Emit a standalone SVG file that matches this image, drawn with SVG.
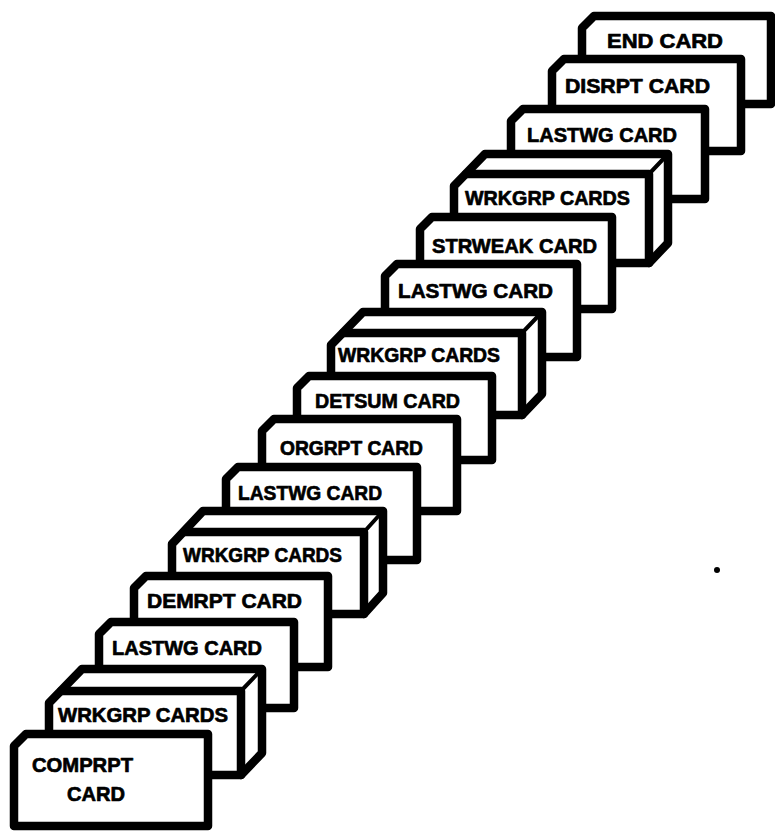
<svg xmlns="http://www.w3.org/2000/svg" width="775" height="831" viewBox="0 0 775 831">
<style>
.card{fill:#fff;stroke:#000;stroke-width:8.5;stroke-linejoin:round;stroke-linecap:round}
.edge{fill:none;stroke:#000;stroke-width:8.5;stroke-linejoin:round;stroke-linecap:round}
.thin{fill:none;stroke:#000;stroke-width:4;stroke-linecap:round}
.lbl{font-family:"Liberation Sans",Arial,sans-serif;font-weight:bold;font-size:21px;fill:#000;stroke:#000;stroke-width:0.7;stroke-linejoin:round}
</style>
<rect width="775" height="831" fill="#fff"/>
<g id="end-card">
<path class="card" d="M582,104 V28 L594,16 H771 V104 Z"/>
<text class="lbl" x="607" y="48" textLength="116" lengthAdjust="spacingAndGlyphs">END CARD</text>
</g>
<g id="disrpt-card">
<path class="card" d="M552,151 V71 L564,59 H741 V151 Z"/>
<text class="lbl" x="565" y="93" textLength="145" lengthAdjust="spacingAndGlyphs">DISRPT CARD</text>
</g>
<g id="lastwg-card-3">
<path class="card" d="M511,199 V121 L523,109 H705 V199 Z"/>
<text class="lbl" x="527" y="142" textLength="150" lengthAdjust="spacingAndGlyphs">LASTWG CARD</text>
</g>
<g id="wrkgrp-cards-4">
<path class="card" d="M454,263 V186 L485,154 H668 V243 L649,263 Z"/>
<path class="edge" d="M466,174 H649 V263"/>
<path class="thin" d="M649,174 L668,154"/>
<text class="lbl" x="465" y="205" textLength="165" lengthAdjust="spacingAndGlyphs">WRKGRP CARDS</text>
</g>
<g id="strweak-card">
<path class="card" d="M420,309 V229 L432,217 H612 V309 Z"/>
<text class="lbl" x="432" y="253" textLength="165" lengthAdjust="spacingAndGlyphs">STRWEAK CARD</text>
</g>
<g id="lastwg-card-6">
<path class="card" d="M385,357 V276 L397,264 H577 V357 Z"/>
<text class="lbl" x="398" y="298" textLength="155" lengthAdjust="spacingAndGlyphs">LASTWG CARD</text>
</g>
<g id="wrkgrp-cards-7">
<path class="card" d="M331,415 V345 L363,312 H542 V394 L522,415 Z"/>
<path class="edge" d="M343,333 H522 V415"/>
<path class="thin" d="M522,333 L542,312"/>
<text class="lbl" x="338" y="362" textLength="162" lengthAdjust="spacingAndGlyphs">WRKGRP CARDS</text>
</g>
<g id="detsum-card">
<path class="card" d="M297,460 V388 L309,376 H492 V460 Z"/>
<text class="lbl" x="315" y="408" textLength="145" lengthAdjust="spacingAndGlyphs">DETSUM CARD</text>
</g>
<g id="orgrpt-card">
<path class="card" d="M262,511 V431 L274,419 H457 V511 Z"/>
<text class="lbl" x="280" y="455" textLength="143" lengthAdjust="spacingAndGlyphs">ORGRPT CARD</text>
</g>
<g id="lastwg-card-10">
<path class="card" d="M226,560 V479 L238,467 H417 V560 Z"/>
<text class="lbl" x="238" y="500" textLength="144" lengthAdjust="spacingAndGlyphs">LASTWG CARD</text>
</g>
<g id="wrkgrp-cards-11">
<path class="card" d="M172,614 V544 L203,511 H383 V593 L364,614 Z"/>
<path class="edge" d="M184,532 H364 V614"/>
<path class="thin" d="M364,532 L383,511"/>
<text class="lbl" x="183" y="562" textLength="159" lengthAdjust="spacingAndGlyphs">WRKGRP CARDS</text>
</g>
<g id="demrpt-card">
<path class="card" d="M134,667 V588 L146,576 H328 V667 Z"/>
<text class="lbl" x="147" y="608" textLength="155" lengthAdjust="spacingAndGlyphs">DEMRPT CARD</text>
</g>
<g id="lastwg-card-13">
<path class="card" d="M99,708 V634 L111,622 H294 V708 Z"/>
<text class="lbl" x="112" y="655" textLength="150" lengthAdjust="spacingAndGlyphs">LASTWG CARD</text>
</g>
<g id="wrkgrp-cards-14">
<path class="card" d="M49,775 V703 L82,669 H262 V753 L241,775 Z"/>
<path class="edge" d="M61,691 H241 V775"/>
<path class="thin" d="M241,691 L262,669"/>
<text class="lbl" x="58" y="722" textLength="170" lengthAdjust="spacingAndGlyphs">WRKGRP CARDS</text>
</g>
<g id="comprpt-card">
<path class="card" d="M14,826 V746 L26,734 H208 V826 Z"/>
<text class="lbl" x="32" y="772" textLength="101" lengthAdjust="spacingAndGlyphs">COMPRPT</text>
<text class="lbl" x="67" y="801" textLength="58" lengthAdjust="spacingAndGlyphs">CARD</text>
</g>
<circle cx="717" cy="570" r="3" fill="#000"/>
</svg>
